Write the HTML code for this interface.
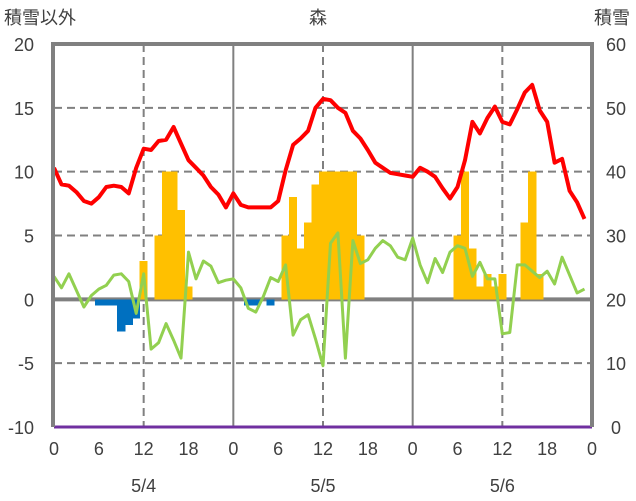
<!DOCTYPE html>
<html><head><meta charset="utf-8"><style>
body{margin:0;background:#fff;}
svg{display:block;font-family:"Liberation Sans","Noto Sans CJK JP",sans-serif;}
</style></head><body>
<svg id="chart" width="636" height="501" viewBox="0 0 636 501">
<text x="4" y="24" font-size="18" fill="#404040">積雪以外</text>
<text x="318" y="24" font-size="18" fill="#404040" text-anchor="middle">森</text>
<text x="630" y="24" font-size="18" fill="#404040" text-anchor="end">積雪</text>
<g id="grid"></g><g id="bars" shape-rendering="crispEdges"></g><g id="lines"></g><g id="axes"></g>
</svg>
<script>
const leftTicks=[20,15,10,5,0,-5,-10];
const rightTicks=[60,50,40,30,20,10,0];
const hourLabels=["0","6","12","18","0","6","12","18","0","6","12","18","0"];
const dateLabels=["5/4","5/5","5/6"];
const redSeries=[10.3,9.0,8.9,8.4,7.7,7.5,8.0,8.8,8.9,8.8,8.3,10.3,11.8,11.7,12.4,12.5,13.5,12.2,10.9,10.3,9.7,8.8,8.2,7.2,
8.3,7.4,7.2,7.2,7.2,7.2,7.7,10.1,12.1,12.6,13.2,15.0,15.7,15.6,15.0,14.6,13.2,12.6,11.7,10.7,10.3,9.9,9.8,9.7,
9.6,10.3,10.0,9.6,8.7,7.9,8.8,10.9,13.9,13.0,14.2,15.1,13.9,13.7,14.9,16.2,16.8,14.8,13.9,10.7,11.0,8.5,7.6,6.3];
const greenSeries=[1.8,0.9,2.0,0.7,-0.6,0.3,0.8,1.1,1.9,2.0,1.4,-1.1,2.0,-3.9,-3.4,-1.9,-3.2,-4.6,3.7,1.6,3.0,2.6,1.3,1.5,
1.6,0.9,-0.7,-1.0,0.2,1.7,1.4,2.7,-2.8,-1.6,-1.2,-3.1,-5.2,4.4,5.2,-4.6,4.6,2.8,3.1,4.0,4.6,4.2,3.3,3.1,
4.8,2.7,1.3,3.2,2.1,3.7,4.2,4.0,1.8,2.9,1.6,1.6,-2.7,-2.6,2.7,2.7,2.2,1.7,2.2,1.2,3.3,1.9,0.5,0.8];
const orangeSeries=[0,0,0,0,0,0,0,0,0,0,0,0,3,0,5,10,10,7,1,0,0,0,0,0,
0,0,0,0,0,0,0,5,8,4,6,9,10,10,10,10,10,5,0,0,0,0,0,0,
0,0,0,0,0,0,5,10,4,1,2,1,2,0,0,6,10,2,0,0,0,0,0,0];
const blueSeries=[0,0,0,0,0,0,-0.5,-0.5,-0.5,-2.5,-2.0,-1.5,0,0,0,0,0,0,0,0,0,0,0,0,
0,0,-0.5,-0.5,0,-0.5,0,0,0,0,0,0,0,0,0,0,0,0,0,0,0,0,0,0,
0,0,0,0,0,0,0,0,0,0,0,0,0,0,0,0,0,0,0,0,0,0,0,0];
const snowDepth=new Array(72).fill(0);

const X0=54,X1=592,YT=44,YB=427;
const x=h=>X0+h*(X1-X0)/72;
const yL=v=>YB-(v+10)*(YB-YT)/30;
const yR=v=>YB-v*(YB-YT)/60;
const NS="http://www.w3.org/2000/svg";
function mk(tag,attrs,parent){const e=document.createElementNS(NS,tag);for(const k in attrs)e.setAttribute(k,attrs[k]);document.getElementById(parent).appendChild(e);return e;}
[15,10,5,-5].forEach(v=>{const l=mk('line',{x1:X0,x2:X1,y1:yL(v),y2:yL(v),stroke:'#808080','stroke-width':2,'stroke-dasharray':'8,5'},'grid');

});
[12,36,60].forEach(h=>{const l=mk('line',{x1:x(h),x2:x(h),y1:YT,y2:YB,stroke:'#808080','stroke-width':2,'stroke-dasharray':'8,5'},'grid');

});
[24,48].forEach(h=>{const l=mk('line',{x1:x(h),x2:x(h),y1:YT,y2:YB,stroke:'#808080','stroke-width':2},'grid');

});
const zl=mk('line',{x1:X0,x2:X1,y1:yL(0),y2:yL(0),stroke:'#808080','stroke-width':4},'grid');


const bw=(X1-X0)/72;
orangeSeries.forEach((v,i)=>{if(!v)return;const r=mk('rect',{x:x(i)-bw/2-0.3,y:yL(v),width:bw+0.6,height:yL(0)-yL(v),fill:'#FFC000'},'bars');

});
blueSeries.forEach((v,i)=>{if(!v)return;const r=mk('rect',{x:x(i)-bw/2-0.3,y:yL(0),width:bw+0.6,height:yL(v)-yL(0),fill:'#0070C0'},'bars');

});
function pts(arr,f){return arr.map((v,i)=>x(i).toFixed(1)+','+f(v).toFixed(1)).join(' ');}
const g=mk('polyline',{points:pts(greenSeries,yL),fill:'none',stroke:'#92D050','stroke-width':3,'stroke-linejoin':'round'},'lines');


const r=mk('polyline',{points:pts(redSeries,yL),fill:'none',stroke:'#FF0000','stroke-width':4,'stroke-linejoin':'round'},'lines');


const fr=mk('path',{d:`M${X0-1},${YB} V${YT} H${X1} V${YB}`,fill:'none',stroke:'#808080','stroke-width':4},'axes');


const p=mk('polyline',{points:pts(snowDepth.concat([0]),yR),fill:'none',stroke:'#7030A0','stroke-width':3},'lines');


leftTicks.forEach(v=>{const t=mk('text',{x:34,y:yL(v)+7,'font-size':18,fill:'#404040','text-anchor':'end'},'axes');t.textContent=v;

});
rightTicks.forEach(v=>{const t=mk('text',{x:616,y:yR(v)+7,'font-size':18,fill:'#404040','text-anchor':'middle'},'axes');t.textContent=v;

});
hourLabels.forEach((s,i)=>{const t=mk('text',{x:x(i*6),y:455,'font-size':18,fill:'#404040','text-anchor':'middle'},'axes');t.textContent=s;

});
dateLabels.forEach((s,i)=>{const t=mk('text',{x:x(12+24*i),y:492,'font-size':18,fill:'#404040','text-anchor':'middle'},'axes');t.textContent=s;

});
</script>
</body></html>
